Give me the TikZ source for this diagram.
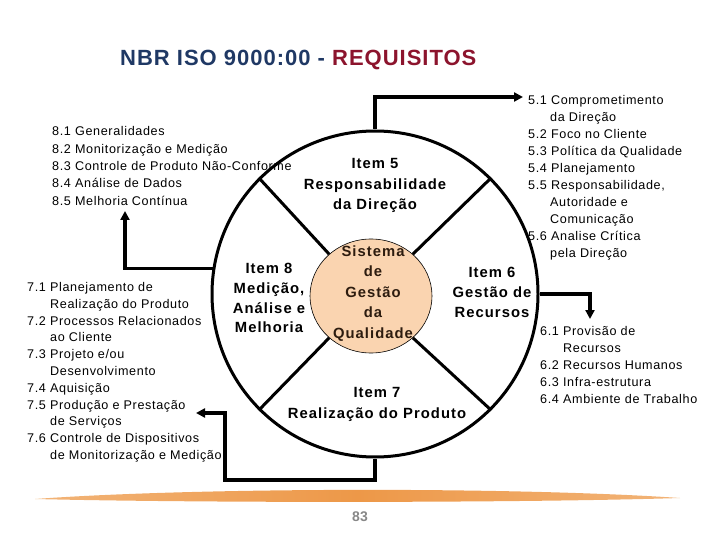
\documentclass[tikz,border=0pt]{standalone}
\usepackage{fontspec}
\setmainfont{Liberation Sans}
\newfontfamily\lstfont[LetterSpace=5]{Liberation Sans}
\newfontfamily\lblfont[LetterSpace=7]{Liberation Sans}
\newfontfamily\ttlfont[LetterSpace=4.5]{Liberation Sans}
\usetikzlibrary{arrows.meta,shapes.geometric}
\definecolor{navy}{RGB}{31,56,100}
\definecolor{wine}{RGB}{140,20,45}
\definecolor{peach}{RGB}{250,212,176}
\definecolor{swoosh}{RGB}{237,152,72}
\definecolor{swooshlt}{RGB}{242,180,120}
\definecolor{innertxt}{RGB}{45,28,15}
\definecolor{pagegray}{RGB}{135,135,135}
\begin{document}
\begin{tikzpicture}[x=1pt,y=-1pt,
 lst/.style={anchor=base west,inner sep=0pt,font=\lstfont\fontsize{12.6}{14}\selectfont},
 lbl/.style={anchor=base,inner sep=0pt,font=\lblfont\bfseries\fontsize{14.8}{16}\selectfont},
 ring/.style={line width=3pt},
 conn/.style={line width=3.5pt,-{Triangle[length=9pt,width=9pt]}}]
\useasboundingbox (0,0) rectangle (720,540);

% title
\node[anchor=base west,inner sep=0pt,font=\ttlfont\bfseries\fontsize{22}{24}\selectfont] (title) at (120,65.5)
  {\textcolor{navy}{NBR ISO 9000:00 - }\textcolor{wine}{REQUISITOS}};

% circles
\node[circle,draw,ring,minimum size=326pt,inner sep=0pt] (outer) at (375,294) {};
\node[ellipse,draw,line width=0.6pt,fill=peach,minimum width=122pt,minimum height=114pt,inner sep=0pt] (inner) at (371,296) {};
\foreach \a in {45,135,225,315}
  \draw[ring] (inner.\a) -- (outer.\a);

% centre labels
\foreach \yy/\txt [count=\i] in {169/{Item 5},190/{Responsabilidade},210/{da Direção}}
  \node[lbl,name=i5-\i] at (375,\yy) {\txt};
\foreach \yy/\txt [count=\i] in {273/{Item 8},293/{Medição,},313/{Análise e},332/{Melhoria}}
  \node[lbl,name=i8-\i] at (269,\yy) {\txt};
\foreach \yy/\txt [count=\i] in {277/{Item 6},297/{Gestão de},317/{Recursos}}
  \node[lbl,name=i6-\i] at (492,\yy) {\txt};
\foreach \yy/\txt [count=\i] in {397/{Item 7},418/{Realização do Produto}}
  \node[lbl,name=i7-\i] at (377,\yy) {\txt};
\foreach \yy/\txt [count=\i] in {256/{Sistema},276.5/{de},297/{Gestão},317.5/{da},338/{Qualidade}}
  \node[lbl,text=innertxt,name=sg-\i] at (373,\yy) {\txt};

% lists
\foreach \xx/\yy/\txt [count=\i] in {52/136/{8.1 Generalidades},52/153.3/{8.2 Monitorização e Medição},52/170.6/{8.3 Controle de Produto Não-Conforme},52/187.9/{8.4 Análise de Dados},52/205.2/{8.5 Melhoria Contínua}}
  \node[lst,name=l8-\i] at (\xx,\yy) {\txt};
\foreach \xx/\yy/\txt [count=\i] in {528/104.5/{5.1 Comprometimento},550/121.5/{da Direção},528/138.6/{5.2 Foco no Cliente},528/155.6/{5.3 Política da Qualidade},528/172.7/{5.4 Planejamento},528/189.7/{5.5 Responsabilidade,},550/206.8/{Autoridade e},550/223.8/{Comunicação},528/240.9/{5.6 Analise Crítica},550/257.9/{pela Direção}}
  \node[lst,name=l5-\i] at (\xx,\yy) {\txt};
\foreach \xx/\yy/\txt [count=\i] in {27/291.5/{7.1 Planejamento de},50/308.3/{Realização do Produto},27/325.1/{7.2 Processos Relacionados},50/341.9/{ao Cliente},27/358.7/{7.3 Projeto e/ou},50/375.5/{Desenvolvimento},27/392.3/{7.4 Aquisição},27/409.1/{7.5 Produção e Prestação},50/425.9/{de Serviços},27/442.7/{7.6 Controle de Dispositivos}}
  \node[lst,name=l7-\i] at (\xx,\yy) {\txt};
\begin{scope}
  \clip (0,440) rectangle (223,470);
  \node[lst] (l7-11) at (50,459.5) {de Monitorização e Medição};
\end{scope}
\foreach \xx/\yy/\txt [count=\i] in {540/335.5/{6.1 Provisão de},563/352.5/{Recursos},540/369.5/{6.2 Recursos Humanos},540/386.5/{6.3 Infra-estrutura},540/403.5/{6.4 Ambiente de Trabalho}}
  \node[lst,name=l6-\i] at (\xx,\yy) {\txt};

% connectors
\coordinate (topEnd) at (523,97);
\coordinate (rightEnd) at (590,319);
\coordinate (leftEnd) at (125,211);
\coordinate (botCorner) at (225,480);
\coordinate (botEnd) at (196,413);
\draw[conn] (outer.north) |- (topEnd);
\draw[conn] (outer.east) -| (rightEnd);
\draw[conn] (outer.171.5) -| (leftEnd);
\draw[conn] (outer.south) |- (botCorner) |- (botEnd);

% swoosh
\shade[left color=swooshlt,right color=swooshlt,middle color=swoosh]
  (35,499) .. controls (200,487) and (520,487) .. (680,498)
  .. controls (520,503) and (200,503) .. cycle;
\node[anchor=base,inner sep=0pt,text=pagegray,font=\bfseries\fontsize{14}{16}\selectfont] (page) at (360,521) {83};
\end{tikzpicture}
\end{document}
